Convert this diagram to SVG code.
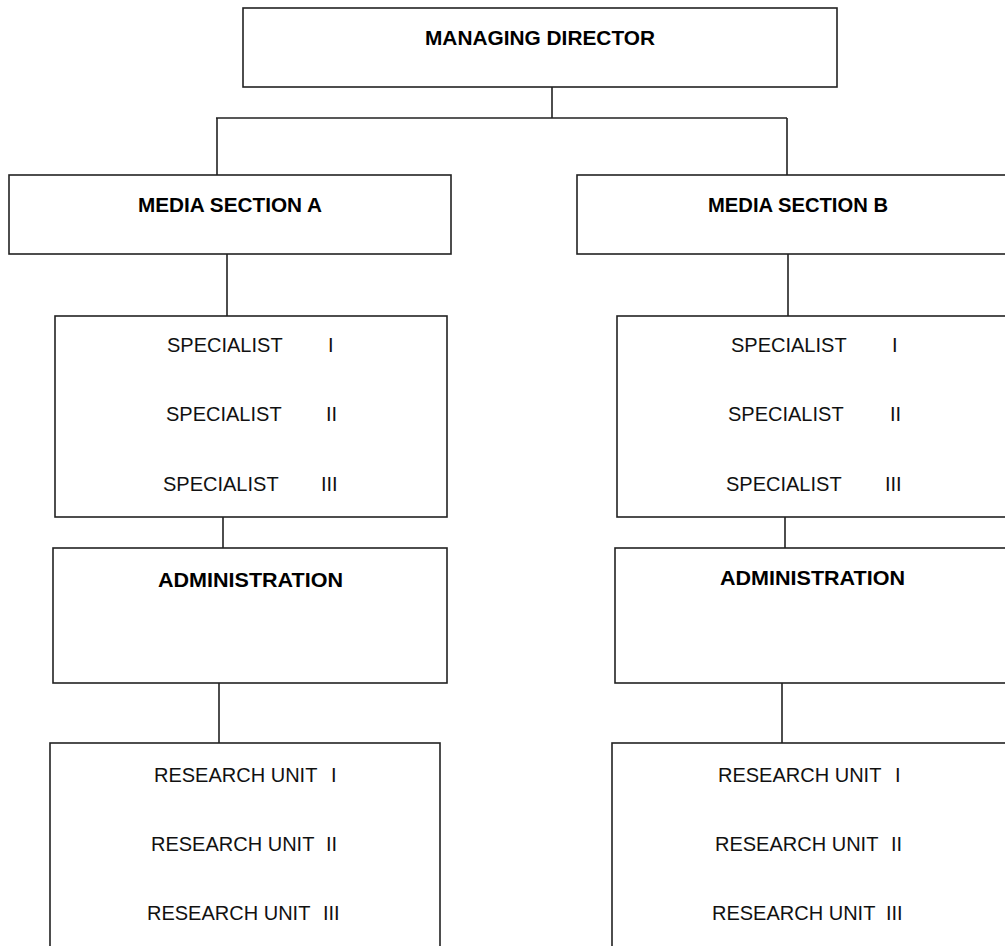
<svg xmlns="http://www.w3.org/2000/svg" width="1005" height="946" viewBox="0 0 1005 946">
<style>
.box{fill:#fff;stroke:#222;stroke-width:1.6}
.conn{fill:none;stroke:#222;stroke-width:1.6}
.b{font-family:"Liberation Sans",Arial,sans-serif;font-weight:bold;font-size:21px;fill:#000}
.r{font-family:"Liberation Sans",Arial,sans-serif;font-size:20px;fill:#111}
</style>
<rect width="1005" height="946" fill="#fff"/>
<g id="connectors">
<path class="conn" d="M552,87V118M216,118H787M217,118V175M787,118V175"/>
<path class="conn" d="M227,254V316M788,254V316"/>
<path class="conn" d="M223,517V548M785,517V548"/>
<path class="conn" d="M219,683V743M782,683V743"/>
</g>
<g id="managing-director">
<rect class="box" x="243" y="8" width="594" height="79"/>
<text class="b" x="425" y="45" textLength="230" lengthAdjust="spacingAndGlyphs">MANAGING DIRECTOR</text>
</g>
<g id="media-section-a">
<rect class="box" x="9" y="175" width="442" height="79"/>
<text class="b" x="138" y="212" textLength="184" lengthAdjust="spacingAndGlyphs">MEDIA SECTION A</text>
</g>
<g id="media-section-b">
<rect class="box" x="577" y="175" width="460" height="79"/>
<text class="b" x="708" y="212" textLength="180" lengthAdjust="spacingAndGlyphs">MEDIA SECTION B</text>
</g>
<g id="specialists-a">
<rect class="box" x="55" y="316" width="392" height="201"/>
<text class="r" y="352"><tspan x="167">SPECIALIST</tspan><tspan x="328">I</tspan></text>
<text class="r" y="421"><tspan x="166">SPECIALIST</tspan><tspan x="326">II</tspan></text>
<text class="r" y="491"><tspan x="163">SPECIALIST</tspan><tspan x="321">III</tspan></text>
</g>
<g id="specialists-b">
<rect class="box" x="617" y="316" width="450" height="201"/>
<text class="r" y="352"><tspan x="731">SPECIALIST</tspan><tspan x="892">I</tspan></text>
<text class="r" y="421"><tspan x="728">SPECIALIST</tspan><tspan x="890">II</tspan></text>
<text class="r" y="491"><tspan x="726">SPECIALIST</tspan><tspan x="885">III</tspan></text>
</g>
<g id="administration-a">
<rect class="box" x="53" y="548" width="394" height="135"/>
<text class="b" x="158" y="587" textLength="185" lengthAdjust="spacingAndGlyphs">ADMINISTRATION</text>
</g>
<g id="administration-b">
<rect class="box" x="615" y="548" width="420" height="135"/>
<text class="b" x="720" y="585" textLength="185" lengthAdjust="spacingAndGlyphs">ADMINISTRATION</text>
</g>
<g id="research-a">
<rect class="box" x="50" y="743" width="390" height="230"/>
<text class="r" y="782"><tspan x="154">RESEARCH UNIT</tspan><tspan x="331">I</tspan></text>
<text class="r" y="851"><tspan x="151">RESEARCH UNIT</tspan><tspan x="326">II</tspan></text>
<text class="r" y="920"><tspan x="147">RESEARCH UNIT</tspan><tspan x="323">III</tspan></text>
</g>
<g id="research-b">
<rect class="box" x="612" y="743" width="420" height="230"/>
<text class="r" y="782"><tspan x="718">RESEARCH UNIT</tspan><tspan x="895">I</tspan></text>
<text class="r" y="851"><tspan x="715">RESEARCH UNIT</tspan><tspan x="891">II</tspan></text>
<text class="r" y="920"><tspan x="712">RESEARCH UNIT</tspan><tspan x="886">III</tspan></text>
</g>
</svg>
